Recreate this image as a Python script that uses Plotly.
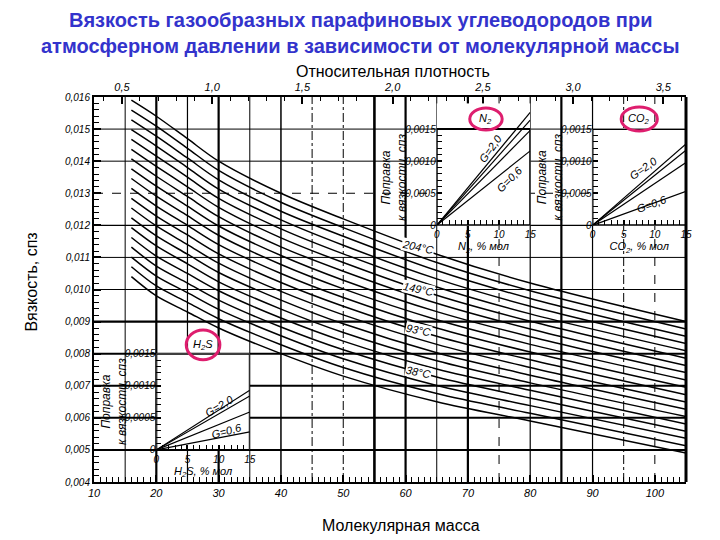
import numpy as np
import plotly.graph_objects as go

# ---------------- data ----------------
mass = [16, 20, 25, 30, 40, 50, 65, 80, 105]          # molecular mass
temps_f = [40, 60, 80, 100, 120, 140, 160, 180, 200, 220,
           240, 260, 280, 300, 320, 340, 360, 380, 400]  # isotherms, °F
visc_rows = [
    [0.01040, 0.00980, 0.00930, 0.00880, 0.00800, 0.00730, 0.00650, 0.00590, 0.00490],
    [0.01071, 0.01011, 0.00960, 0.00909, 0.00828, 0.00757, 0.00676, 0.00614, 0.00513],
    [0.01101, 0.01042, 0.00990, 0.00938, 0.00856, 0.00784, 0.00701, 0.00638, 0.00536],
    [0.01132, 0.01073, 0.01020, 0.00967, 0.00883, 0.00812, 0.00727, 0.00662, 0.00558],
    [0.01162, 0.01104, 0.01050, 0.00996, 0.00911, 0.00839, 0.00752, 0.00686, 0.00581],
    [0.01193, 0.01136, 0.01080, 0.01024, 0.00939, 0.00866, 0.00778, 0.00709, 0.00604],
    [0.01223, 0.01167, 0.01110, 0.01053, 0.00967, 0.00893, 0.00803, 0.00733, 0.00627],
    [0.01254, 0.01198, 0.01140, 0.01082, 0.00994, 0.00921, 0.00829, 0.00757, 0.00649],
    [0.01284, 0.01229, 0.01170, 0.01111, 0.01022, 0.00948, 0.00854, 0.00781, 0.00672],
    [0.01315, 0.01260, 0.01200, 0.01140, 0.01050, 0.00975, 0.00880, 0.00805, 0.00695],
    [0.01346, 0.01291, 0.01230, 0.01169, 0.01078, 0.01002, 0.00906, 0.00829, 0.00718],
    [0.01376, 0.01322, 0.01260, 0.01198, 0.01106, 0.01029, 0.00931, 0.00853, 0.00741],
    [0.01407, 0.01353, 0.01290, 0.01227, 0.01133, 0.01057, 0.00957, 0.00877, 0.00763],
    [0.01437, 0.01384, 0.01320, 0.01256, 0.01161, 0.01084, 0.00982, 0.00901, 0.00786],
    [0.01468, 0.01416, 0.01350, 0.01284, 0.01189, 0.01111, 0.01008, 0.00924, 0.00809],
    [0.01498, 0.01447, 0.01380, 0.01313, 0.01217, 0.01138, 0.01033, 0.00948, 0.00832],
    [0.01529, 0.01478, 0.01410, 0.01342, 0.01244, 0.01166, 0.01059, 0.00972, 0.00854],
    [0.01559, 0.01509, 0.01440, 0.01371, 0.01272, 0.01193, 0.01084, 0.00996, 0.00877],
    [0.01590, 0.01540, 0.01470, 0.01400, 0.01300, 0.01220, 0.01110, 0.01020, 0.00900],
]
temp_labels = {100: "38°C", 200: "93°C", 300: "149°C", 400: "204°C"}

x_ticks = [10, 20, 30, 40, 50, 60, 70, 80, 90, 100]
y_ticks = [0.004, 0.005, 0.006, 0.007, 0.008, 0.009, 0.010,
           0.011, 0.012, 0.013, 0.014, 0.015, 0.016]
y_ticktext = ["0,004", "0,005", "0,006", "0,007", "0,008", "0,009", "0,010",
              "0,011", "0,012", "0,013", "0,014", "0,015", "0,016"]
density_ticks = [0.5, 1.0, 1.5, 2.0, 2.5, 3.0, 3.5]
density_text = ["0,5", "1,0", "1,5", "2,0", "2,5", "3,0", "3,5"]
AIR_M = 28.96

# inset correction charts: correction (cP) at 15 % mol, lines from origin
pct = [0, 15]
g_values = [2.0, 1.5, 1.0, 0.6]
h2s_at15 = [0.00093, 0.00084, 0.00059, 0.00028]
n2_at15 = [0.00176, 0.00164, 0.00148, 0.00116]
co2_at15 = [0.00127, 0.00117, 0.00098, 0.00053]
inset_yt = [0, 0.0005, 0.0010, 0.0015]
inset_yt_text = ["0", "0,0005", "0,0010", "0,0015"]
inset_xt = [0, 5, 10, 15]
inset_xt_text = ["0", "5", "10", "15"]

# ---------------- figure ----------------
XR = [10, 105]
YR = [0.004, 0.016]
ITAL = dict(family="Liberation Sans, Arial, sans-serif", style="italic", color="black")
PLAIN = "Liberation Sans, Arial, sans-serif"

fig = go.Figure()

for T, row in zip(temps_f, visc_rows):
    fig.add_trace(go.Scatter(x=mass, y=row, mode="lines", xaxis="x", yaxis="y",
                             line=dict(color="black", width=1.5, shape="spline", smoothing=0.9),
                             hoverinfo="skip", showlegend=False))

insets = [("x3", "y3", h2s_at15), ("x4", "y4", n2_at15), ("x5", "y5", co2_at15)]
for xa, ya, vals in insets:
    for v in vals:
        fig.add_trace(go.Scatter(x=pct, y=[0, v], mode="lines", xaxis=xa, yaxis=ya,
                                 line=dict(color="black", width=1.2),
                                 hoverinfo="skip", showlegend=False))


def dom(lo, hi, r):
    return [(lo - r[0]) / (r[1] - r[0]), (hi - r[0]) / (r[1] - r[0])]


# inset placement in main-axis units (0.0005 of correction = 0.001 of main scale)
def inset_box(m0, v0, ytop):
    return dom(m0, m0 + 15, XR), dom(v0, v0 + 2 * ytop, YR)


minor_y = [k * 0.0001 for k in range(16)]


def inset_axes(m0, v0, ytop, xanchor, yanchor, xtitle):
    xd, yd = inset_box(m0, v0, ytop)
    xax = dict(domain=xd, anchor=yanchor, range=[0, 15], tickvals=inset_xt, ticktext=inset_xt_text,
               ticks="inside", ticklen=5, tickwidth=1.5, tickcolor="black", ticklabelstandoff=2,
               minor=dict(ticks="inside", dtick=1, ticklen=5, tickcolor="black", tickwidth=1.2),
               showline=False, showgrid=False,
               zeroline=False, tickfont=dict(ITAL, size=10),
               title=dict(text=xtitle, font=dict(ITAL, size=11), standoff=0))
    yax = dict(domain=yd, anchor=xanchor, range=[0, ytop], tickvals=inset_yt, ticktext=inset_yt_text,
               ticks="inside", ticklen=5, tickwidth=1.5, tickcolor="black",
               minor=dict(ticks="inside", tickvals=minor_y, ticklen=5, tickcolor="black", tickwidth=1.2),
               showline=False, showgrid=False,
               zeroline=False, tickfont=dict(ITAL, size=10))
    return xax, yax


inset_tops = {"x3": 0.0015, "x4": 0.0019, "x5": 0.0015}
x3, y3 = inset_axes(20, 0.005, inset_tops["x3"], "x3", "y3", "H<sub>2</sub>S, % мол")
x4, y4 = inset_axes(65, 0.012, inset_tops["x4"], "x4", "y4", "N<sub>2</sub>, % мол")
x5, y5 = inset_axes(90, 0.012, inset_tops["x5"], "x5", "y5", "CO<sub>2</sub>, % мол")

density_minor = [round(0.4 + 0.1 * k, 1) * AIR_M for k in range(33)]

fig.update_layout(
    width=720, height=540, margin=dict(l=86, r=42, t=89, b=66),
    paper_bgcolor="white", plot_bgcolor="white", showlegend=False,
    xaxis=dict(range=XR, tickvals=x_ticks, ticks="inside", ticklen=7, tickwidth=1.5, tickcolor="black",
               minor=dict(ticks="inside", dtick=1, ticklen=5, tickcolor="black", tickwidth=1.2),
               showgrid=False, zeroline=False, showline=True, linewidth=2, linecolor="black",
               tickfont=dict(ITAL, size=11)),
    xaxis2=dict(range=XR, overlaying="x", side="top", anchor="y",
                tickvals=[g * AIR_M for g in density_ticks], ticktext=density_text,
                ticks="inside", ticklen=7, tickwidth=1.5, tickcolor="black",
                minor=dict(ticks="inside", tickvals=density_minor, ticklen=4, tickcolor="black", tickwidth=1.2),
                showgrid=False, zeroline=False, showline=True, linewidth=2, linecolor="black",
                tickfont=dict(ITAL, size=11)),
    yaxis=dict(range=YR, tickvals=y_ticks, ticktext=y_ticktext, ticks="inside", ticklen=7,
               tickwidth=1.5, tickcolor="black",
               minor=dict(ticks="inside", dtick=0.0002, ticklen=5, tickcolor="black", tickwidth=1.2),
               showgrid=False, zeroline=False, showline=True, linewidth=2, linecolor="black",
               tickfont=dict(ITAL, size=10)),
    xaxis3=x3, yaxis3=y3, xaxis4=x4, yaxis4=y4, xaxis5=x5, yaxis5=y5,
)
# overlay axis needs a trace to render
fig.add_trace(go.Scatter(x=[XR[0]], y=[YR[0]], xaxis="x2", yaxis="y", mode="markers",
                         marker=dict(opacity=0), hoverinfo="skip", showlegend=False))

# ---------------- grid (styling) ----------------
v_grid = [(15, 1.0, "solid"), (20, 2.2, "solid"), (25, 1.2, "solid"), (30, 2.2, "solid"),
          (35, 1.0, "solid"), (40, 1.5, "solid"), (45, 1.0, "dashdot"), (50, 1.0, "dashdot"),
          (55, 2.6, "solid"), (60, 2.2, "solid"), (65, 1.0, "solid"), (70, 2.2, "solid"),
          (75, 1.0, "dash"), (80, 1.2, "solid"), (85, 2.2, "solid"), (90, 1.2, "solid"),
          (95, 1.0, "dashdot"), (100, 1.0, "dash")]
h_grid = [(0.005, 2.0, "solid"), (0.006, 2.0, "solid"), (0.007, 2.2, "solid"), (0.008, 2.0, "solid"),
          (0.009, 2.2, "solid"), (0.010, 1.0, "solid"), (0.011, 1.0, "solid"), (0.012, 1.2, "solid"),
          (0.013, 1.0, "dash"), (0.014, 1.0, "solid"), (0.015, 1.0, "solid")]
shapes = []
for xv, w, d in v_grid:
    shapes.append(dict(type="line", xref="x", yref="y domain", x0=xv, x1=xv, y0=0, y1=1,
                       line=dict(color="black", width=w, dash=d), layer="below"))
for yv, w, d in h_grid:
    shapes.append(dict(type="line", xref="x domain", yref="y", x0=0, x1=1, y0=yv, y1=yv,
                       line=dict(color="black", width=w, dash=d), layer="below"))
shapes.append(dict(type="line", xref="x domain", yref="y domain", x0=1, x1=1, y0=0, y1=1,
                   line=dict(color="black", width=3)))
# inset frames
for xa in ["x3", "x4", "x5"]:
    shapes.append(dict(type="rect", xref=xa, yref="y" + xa[1:], x0=0, x1=15, y0=0, y1=0.0015,
                       line=dict(color="black", width=2)))

# circled gas names
PINK = "rgb(222,30,110)"
circles = [((70.3, 75.5), (0.01497, 0.01566), "N<sub>2</sub>"),
           ((94.6, 100.4), (0.01494, 0.01569), "CO<sub>2</sub>"),
           ((24.8, 30.2), (0.00781, 0.00874), "H<sub>2</sub>S")]
annotations = []
for (cx0, cx1), (cy0, cy1), txt in circles:
    shapes.append(dict(type="circle", xref="x", yref="y", x0=cx0, x1=cx1, y0=cy0, y1=cy1,
                       line=dict(color=PINK, width=3)))
    annotations.append(dict(xref="x", yref="y", x=(cx0 + cx1) / 2, y=(cy0 + cy1) / 2, text=txt,
                            showarrow=False, font=dict(ITAL, size=11)))

# temperature labels on the isotherms
LABEL_M = 62
for T, row in zip(temps_f, visc_rows):
    if T in temp_labels:
        annotations.append(dict(xref="x", yref="y", x=LABEL_M, y=float(np.interp(LABEL_M, mass, row)),
                                text=temp_labels[T], showarrow=False, textangle=12,
                                bgcolor="white", borderpad=0, font=dict(ITAL, size=11)))

# inset y titles
ytitle = "Поправка<br>к вязкости, спз"
for xa in ["x3", "x4", "x5"]:
    ya = "y" + xa[1:]
    annotations.append(dict(xref=xa + " domain", yref=ya + " domain", x=-0.45,
                            y=0.00075 / inset_tops[xa], text=ytitle,
                            xanchor="center", yanchor="middle",
                            showarrow=False, textangle=-90, font=dict(ITAL, size=12)))
g_labels = [
    ("x3", "y3", 10.1, 0.00068, "G=2,0", -30), ("x3", "y3", 11.2, 0.00030, "G=0,6", -15),
    ("x3", "y3", 16.6, 0.00084, "1,5", -10), ("x3", "y3", 16.5, 0.00061, "1,0", -10),
    ("x4", "y4", 8.7, 0.00120, "G=2,0", -55), ("x4", "y4", 11.7, 0.00072, "G=0,6", -45),
    ("x4", "y4", 16.3, 0.00176, "1,5", -70), ("x4", "y4", 16.1, 0.00150, "1,0", -70),
    ("x5", "y5", 8.2, 0.00089, "G=2,0", -35), ("x5", "y5", 9.5, 0.00034, "G=0,6", -20),
    ("x5", "y5", 16.0, 0.00135, "1,5", -80), ("x5", "y5", 16.0, 0.00107, "1,0", -80),
]
for xa, ya, gx, gy, txt, ang in g_labels:
    annotations.append(dict(xref=xa, yref=ya, x=gx, y=gy, text=txt, showarrow=False,
                            textangle=ang, font=dict(ITAL, size=11)))

# titles
TITLE_BLUE = "rgb(51,51,204)"
C = dict(xanchor="center", yanchor="middle", showarrow=False, xref="paper", yref="paper")
annotations += [
    dict(C, x=0.451, y=1.20, text="Вязкость газообразных парафиновых углеводородов при",
         font=dict(family=PLAIN, size=20, color=TITLE_BLUE, weight="bold")),
    dict(C, x=0.451, y=1.132, text="атмосферном давлении в зависимости от молекулярной массы",
         font=dict(family=PLAIN, size=20, color=TITLE_BLUE, weight="bold")),
    dict(C, x=0.505, y=1.065, text="Относительная плотность",
         font=dict(family=PLAIN, size=16, color="black")),
    dict(C, x=0.519, y=-0.112, text="Молекулярная масса",
         font=dict(family=PLAIN, size=16, color="black")),
    dict(C, x=-0.106, y=0.519, text="Вязкость, спз", textangle=-90,
         font=dict(family=PLAIN, size=16, color="black")),
]

fig.update_layout(shapes=shapes, annotations=annotations)
fig.write_html("out.html")
